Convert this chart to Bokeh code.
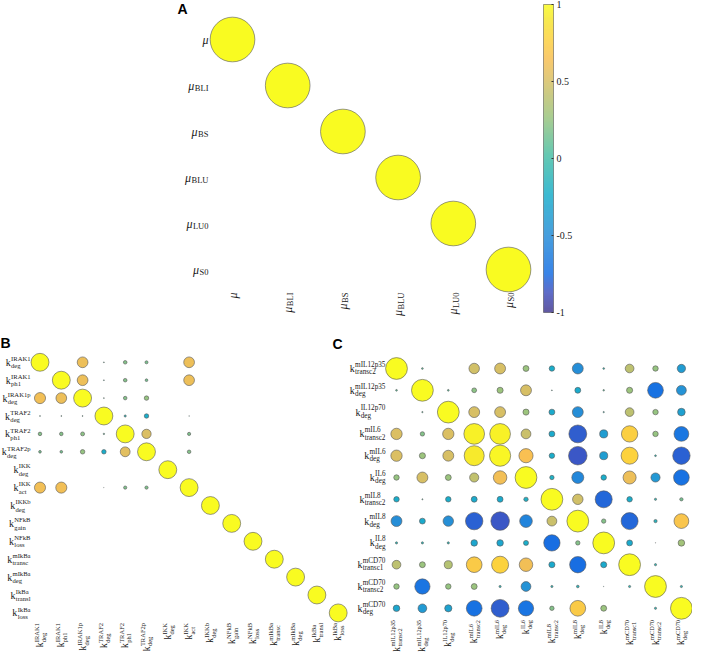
import numpy as np
from bokeh.plotting import figure
from bokeh.models import (Range1d, ColumnDataSource, ColorBar, LinearColorMapper,
                          FixedTicker, NumeralTickFormatter)
from bokeh.transform import linear_cmap
from bokeh.core.properties import value
from bokeh.embed import file_html
from bokeh.resources import INLINE

# ---------------- data ----------------
A_subs = ["", "BLI", "BS", "BLU", "LU0", "S0"]
A_values = [
    [1, 0, 0, 0, 0, 0],
    [0, 1, 0, 0, 0, 0],
    [0, 0, 1, 0, 0, 0],
    [0, 0, 0, 1, 0, 0],
    [0, 0, 0, 0, 1, 0],
    [0, 0, 0, 0, 0, 1],
]

B_sup = ["IRAK1", "IRAK1", "IRAK1p", "TRAF2", "TRAF2", "TRAF2p", "IKK", "IKK",
         "IKKb", "NFkB", "NFkB", "mIkBa", "mIkBa", "IkBa", "IkBa"]
B_sub = ["deg", "ph1", "deg", "deg", "ph1", "deg", "deg", "act",
         "deg", "gain", "loss", "transc", "deg", "transl", "loss"]
B_values = [
    [1.0, 0, 0.6, 0.05, 0.2, 0.17, 0, 0.6, 0, 0, 0, 0, 0, 0, 0],
    [0, 1.0, 0.6, 0.05, 0.2, 0.15, 0, 0.6, 0, 0, 0, 0, 0, 0, 0],
    [0.62, 0.6, 1.0, 0.05, 0.2, 0.25, 0, 0, 0, 0, 0, 0, 0, 0, 0],
    [0.05, 0.05, 0.05, 1.0, -0.12, -0.25, 0, 0.03, 0, 0, 0, 0, 0, 0, 0],
    [0.2, 0.2, 0.22, 0.08, 1.0, 0.52, 0, 0.18, 0, 0, 0, 0, 0, 0, 0],
    [0.15, 0.15, 0.25, -0.25, 0.55, 1.0, 0, 0.2, 0, 0, 0, 0, 0, 0, 0],
    [0, 0, 0, 0, 0, 0, 1.0, 0, 0, 0, 0, 0, 0, 0, 0],
    [0.62, 0.62, 0, 0.02, 0.18, 0.18, 0, 1.0, 0, 0, 0, 0, 0, 0, 0],
    [0, 0, 0, 0, 0, 0, 0, 0, 1.0, 0, 0, 0, 0, 0, 0],
    [0, 0, 0, 0, 0, 0, 0, 0, 0, 1.0, 0, 0, 0, 0, 0],
    [0, 0, 0, 0, 0, 0, 0, 0, 0, 0, 1.0, 0, 0, 0, 0],
    [0, 0, 0, 0, 0, 0, 0, 0, 0, 0, 0, 1.0, 0, 0, 0],
    [0, 0, 0, 0, 0, 0, 0, 0, 0, 0, 0, 0, 1.0, 0, 0],
    [0, 0, 0, 0, 0, 0, 0, 0, 0, 0, 0, 0, 0, 1.0, 0],
    [0, 0, 0, 0, 0, 0, 0, 0, 0, 0, 0, 0, 0, 0, 1.0],
]

C_sup = ["mIL12p35", "mIL12p35", "IL12p70", "mIL6", "mIL6", "IL6",
         "mIL8", "mIL8", "IL8", "mCD70", "mCD70", "mCD70"]
C_sub = ["transc2", "deg", "deg", "transc2", "deg", "deg",
         "transc2", "deg", "deg", "transc1", "transc2", "deg"]
C_values = [
    [1.0, 0.08, 0, 0.48, 0.5, 0.27, -0.25, -0.5, -0.08, 0.4, 0.25, -0.38],
    [0.08, 1.0, 0.08, 0.22, 0.28, 0.5, 0.04, -0.27, 0.07, 0.28, -0.72, -0.45],
    [0, 0.06, 1.0, 0.5, 0.5, 0.28, -0.27, -0.5, -0.06, 0.4, 0.25, -0.35],
    [0.52, 0.2, 0.52, 0.95, 0.95, 0.45, -0.27, -0.82, -0.37, 0.75, 0.25, -0.68],
    [0.52, 0.28, 0.5, 0.92, 0.97, 0.65, -0.25, -0.85, -0.37, 0.78, -0.08, -0.8],
    [0.25, 0.5, 0.27, 0.42, 0.62, 1.0, -0.2, -0.55, -0.25, 0.6, -0.42, -0.72],
    [-0.25, 0.05, -0.25, -0.27, -0.27, -0.2, 1.0, 0.48, -0.78, -0.25, -0.1, 0.15],
    [-0.5, -0.27, -0.48, -0.8, -0.85, -0.58, 0.45, 1.0, 0.2, -0.78, -0.15, 0.68],
    [-0.1, -0.1, -0.1, -0.3, -0.3, -0.23, -0.75, 0.2, 1.0, -0.27, 0.02, 0.3],
    [0.4, 0.27, 0.37, 0.72, 0.78, 0.62, -0.28, -0.75, -0.28, 1.0, -0.1, 0],
    [0.25, -0.7, 0.25, 0.27, -0.1, -0.45, -0.1, -0.12, 0.02, -0.1, 1.0, -0.1],
    [-0.3, -0.4, -0.33, -0.72, -0.82, -0.7, 0.2, 0.72, 0.27, 0, -0.1, 1.0],
]

CBAR_TICKS = [-1, -0.5, 0, 0.5, 1]
PANEL_LETTERS = ["A", "B", "C"]

# ---------------- style / layout ----------------
W, H = 692, 652
M = 8  # page margin: screen px -> figure px
GEOM = {
    "A": dict(x0=240.0, dx=55.2, y0=47.0, dy=46.0, rad=0.486),
    "B": dict(x0=47.5, dx=21.3, y0=369.8, dy=17.9, rad=0.5),
    "C": dict(x0=404.0, dx=25.9, y0=376.0, dy=21.8, rad=0.5),
}
PARULA = [(0.0, "#352a87"), (0.0635, "#3243ba"), (0.127, "#0363e1"), (0.254, "#1485d4"),
          (0.381, "#06a7c6"), (0.508, "#38b99e"), (0.635, "#92bf73"), (0.762, "#d9ba56"),
          (0.825, "#f8ba44"), (0.889, "#fcce2e"), (0.952, "#f5e41d"), (1.0, "#f9fb0e")]


def _hex2rgb(h):
    return [int(h[i:i + 2], 16) for i in (1, 3, 5)]


_t = np.array([a for a, _ in PARULA])
_rgb = np.array([_hex2rgb(h) for _, h in PARULA], float)
_tt = np.linspace(0, 1, 256)
PALETTE = ["#%02x%02x%02x" % tuple(int(round(np.interp(t, _t, _rgb[:, k]))) for k in range(3))
           for t in _tt]

# Times / Liberation Serif advance widths (1/1000 em)
TW = dict(zip("ABCDEFGHIJKLMNOPQRSTUVWXYZ",
              [722, 667, 667, 722, 611, 556, 722, 722, 333, 389, 722, 611, 889, 722, 722, 556,
               722, 667, 556, 611, 722, 722, 944, 722, 722, 611]))
TW.update(dict(zip("abcdefghijklmnopqrstuvwxyz",
                   [444, 500, 444, 500, 444, 333, 500, 500, 278, 278, 500, 278, 778, 500, 500, 500,
                    500, 333, 389, 278, 500, 500, 722, 500, 500, 444])))
TW.update({d: 500 for d in "0123456789"})


def tw(s, size):
    return sum(TW.get(ch, 500) for ch in s) / 1000.0 * size


SERIF = value("Liberation Serif")
TXT = "#1a1a1a"

p = figure(width=W, height=H, output_backend="svg", toolbar_location=None,
           x_range=Range1d(0, W), y_range=Range1d(H, 0),
           x_axis_location=None, y_axis_location=None, min_border=0,
           outline_line_color=None, background_fill_color="white",
           border_fill_color="white")
p.xgrid.visible = False
p.ygrid.visible = False

xr, yr = {}, {}
for name, g in GEOM.items():
    xs = -(g["x0"] - M) / g["dx"]
    xr[name] = Range1d(xs, xs + W / g["dx"])
    yt = -(g["y0"] - M) / g["dy"]
    yr[name] = Range1d(yt + H / g["dy"], yt)
p.extra_x_ranges = xr
p.extra_y_ranges = yr


def xd(name, ax):
    g = GEOM[name]
    return (ax - g["x0"]) / g["dx"]


def yd(name, ay):
    g = GEOM[name]
    return (ay - g["y0"]) / g["dy"]


def bubbles(name, mat):
    g = GEOM[name]
    arr = np.array(mat, float)
    r, c = np.nonzero(arr)
    vals = arr[r, c]
    src = ColumnDataSource(dict(x=c, y=r, v=vals, rad=np.abs(vals) * g["rad"]))
    p.circle(x="x", y="y", radius="rad", radius_dimension="y", source=src,
             fill_color=linear_cmap("v", PALETTE, -1, 1), fill_alpha=0.92,
             line_color="#555555", line_width=0.6,
             x_range_name=name, y_range_name=name)


def add_text(name, xs, ys, texts, size, align, angle=0.0, style="normal",
             font=SERIF, baseline="middle", color=TXT):
    src = ColumnDataSource(dict(x=list(xs), y=list(ys), t=list(texts)))
    p.text(x="x", y="y", text="t", source=src, text_font=font,
           text_font_size=value(f"{size}px"), text_font_style=style,
           text_align=align, text_baseline=baseline, angle=angle,
           text_color=color, x_range_name=name, y_range_name=name)


def k_labels(name, sups, subs, row_end, col_top, fk_r, fs_r, fk_c, fs_c):
    g = GEOM[name]
    n = len(sups)
    # row labels (left)
    kx, ky, sx, sy, bx, by = [], [], [], [], [], []
    for i, (s, b) in enumerate(zip(sups, subs)):
        split = row_end - max(tw(s, fs_r), tw(b, fs_r))
        kx.append(xd(name, split - 0.3)); ky.append(i)
        sx.append(xd(name, split)); sy.append(i - 3.8 / g["dy"])
        bx.append(xd(name, split)); by.append(i + 3.6 / g["dy"])
    add_text(name, kx, ky, ["k"] * n, fk_r, "right")
    add_text(name, sx, sy, sups, fs_r, "left")
    add_text(name, bx, by, subs, fs_r, "left")
    # column labels (bottom, rotated)
    kx, ky, sx, sy, bx, by = [], [], [], [], [], []
    for j, (s, b) in enumerate(zip(sups, subs)):
        split = col_top + max(tw(s, fs_c), tw(b, fs_c))
        kx.append(j); ky.append(yd(name, split + 0.3))
        sx.append(j - 3.6 / g["dx"]); sy.append(yd(name, split))
        bx.append(j + 3.4 / g["dx"]); by.append(yd(name, split))
    add_text(name, kx, ky, ["k"] * n, fk_c, "right", angle=np.pi / 2)
    add_text(name, sx, sy, sups, fs_c, "left", angle=np.pi / 2)
    add_text(name, bx, by, subs, fs_c, "left", angle=np.pi / 2)


# ---- Panel A ----
bubbles("A", A_values)
gA = GEOM["A"]
FMU, FSA = 12, 8.5
mx, my, sx, sy, st = [], [], [], [], []
for i, s in enumerate(A_subs):
    ws = tw(s, FSA)
    split = 216 - ws - (0.5 if s else 0)
    mx.append(xd("A", split)); my.append(i)
    if s:
        sx.append(xd("A", split + 0.5)); sy.append(i + 2.5 / gA["dy"]); st.append(s)
add_text("A", mx, my, ["μ"] * len(A_subs), FMU, "right", style="italic")
add_text("A", sx, sy, st, FSA, "left")
mx, my, sx, sy, st = [], [], [], [], []
for j, s in enumerate(A_subs):
    ws = tw(s, FSA)
    split = 300 + ws + (0.5 if s else 0)
    mx.append(j); my.append(yd("A", split))
    if s:
        sx.append(j + 2.5 / gA["dx"]); sy.append(yd("A", split - 0.5)); st.append(s)
add_text("A", mx, my, ["μ"] * len(A_subs), FMU, "right", angle=np.pi / 2, style="italic")
add_text("A", sx, sy, st, FSA, "left", angle=np.pi / 2)

# ---- Panel B ----
bubbles("B", B_values)
k_labels("B", B_sup, B_sub, row_end=38.0, col_top=630.5, fk_r=10, fs_r=6.6, fk_c=9.5, fs_c=6.5)

# ---- Panel C ----
bubbles("C", C_values)
k_labels("C", C_sup, C_sub, row_end=393, col_top=627.5, fk_r=10, fs_r=7.2, fk_c=9.5, fs_c=6.3)

# ---- panel letters ----
add_text("default", [185 - M, 0, 340 - M], [0, 334, 335], PANEL_LETTERS, 14, "left",
         style="bold", font=value("Liberation Sans"), baseline="top", color="black")

# ---- colour bar ----
mapper = LinearColorMapper(palette=PALETTE, low=-1, high=1)
cb = ColorBar(color_mapper=mapper, width=10, height=308, location=(551 - M, H - (320 - M)),
              padding=0, margin=0, ticker=FixedTicker(ticks=CBAR_TICKS),
              formatter=NumeralTickFormatter(format="0.[0]"),
              major_label_text_font="Liberation Serif", major_label_text_font_size="10px",
              major_label_text_color=TXT, label_standoff=3,
              major_tick_in=2, major_tick_out=0, major_tick_line_color="#333333",
              minor_tick_line_color=None, bar_line_color="#333333", bar_line_width=0.6,
              scale_alpha=0.78, background_fill_alpha=0, border_line_color=None)
p.add_layout(cb, "center")

open("out.html", "w").write(file_html(p, INLINE))
